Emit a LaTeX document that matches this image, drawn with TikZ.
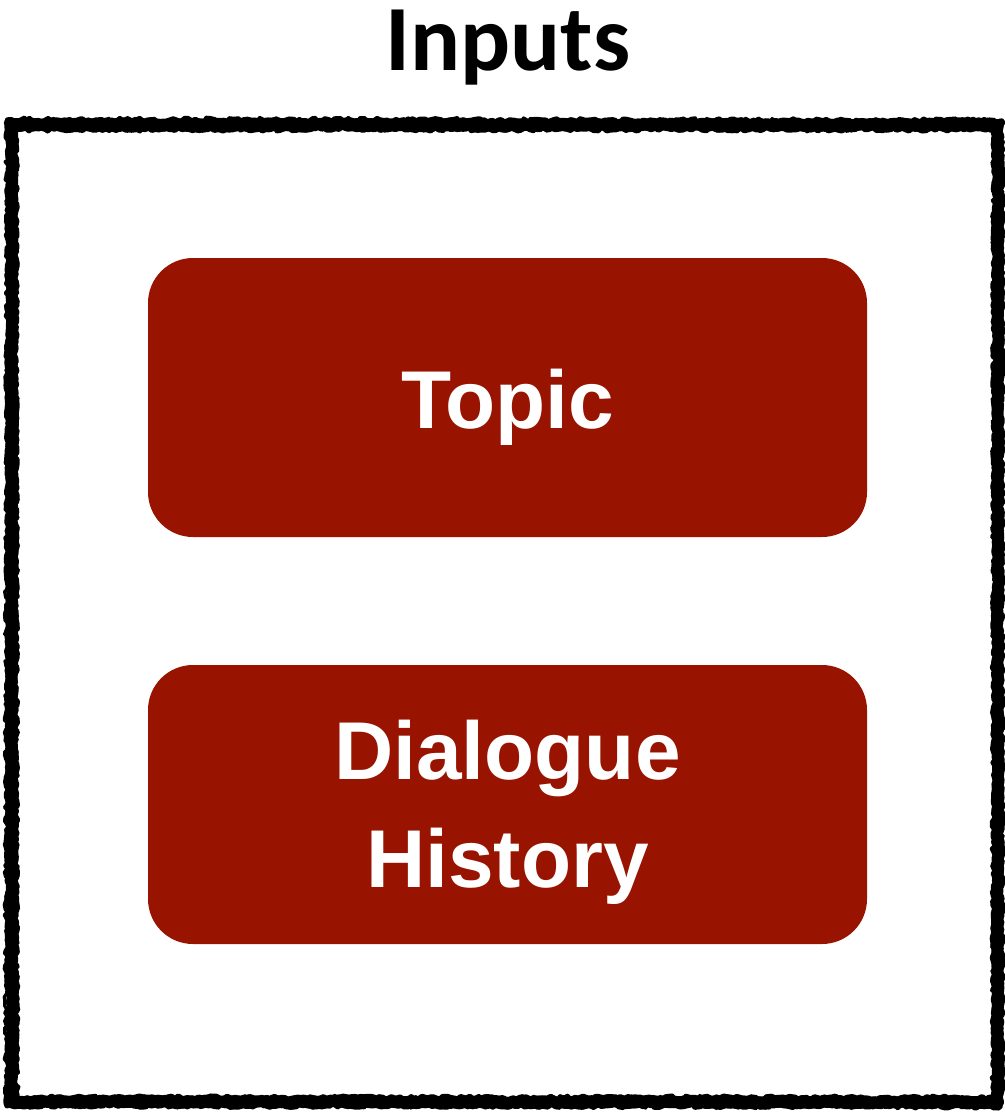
\documentclass[tikz,border=0pt]{standalone}
\usepackage{fontspec}
\setmainfont{Liberation Sans}
\newfontfamily\titlefont{Carlito}
\usetikzlibrary{decorations.pathmorphing}
\definecolor{boxred}{RGB}{152,19,0}
\tikzset{
  inbox/.style={fill=boxred, draw=none, rounded corners=33.75pt, minimum width=539.25pt, minimum height=209.25pt, inner sep=0pt},
  boxtext/.style={font=\fontsize{61.5}{80}\selectfont\bfseries, text=white, inner sep=0pt, anchor=base},
  rough/.style={draw=black, line width=#1, line join=round, decorate, decoration={random steps, segment length=2.5pt, amplitude=1.4pt}},
  titlestyle/.style={font=\titlefont\fontsize{70}{80}\selectfont\bfseries, inner sep=0pt}
}
\begin{document}
\begin{tikzpicture}[x=0.75pt,y=-0.75pt]
\useasboundingbox[fill=white] (0,0) rectangle (1005,1113);
% rough frame
\pgfmathsetseed{7}
\draw[rough=9pt] (12,125) -- (998,125) -- (998,1102) -- (12,1102) -- cycle;
\draw[rough=4pt] (10,122) -- (1000,123) -- (999,1105) -- (9,1104) -- cycle;
\draw[rough=4pt] (15,129) -- (995,129) -- (994,1098) -- (16,1098) -- cycle;
\draw[rough=2.5pt] (7,119) -- (1002,120) -- (1001,1107) -- (6,1106) -- cycle;
\node[titlestyle, anchor=base] (title) at (508,70) {Inputs};
\node[inbox] (topic) at (507.5,397.5) {};
\node[boxtext] (topictext) at ([yshift=-22.9pt]topic.center) {Topic};
\node[inbox] (history) at (507.5,804.5) {};
\node[boxtext] (histtext1) at ([yshift=18.4pt]history.center) {Dialogue};
\node[boxtext] (histtext2) at ([yshift=-61.9pt]history.center) {History};
\end{tikzpicture}
\end{document}
